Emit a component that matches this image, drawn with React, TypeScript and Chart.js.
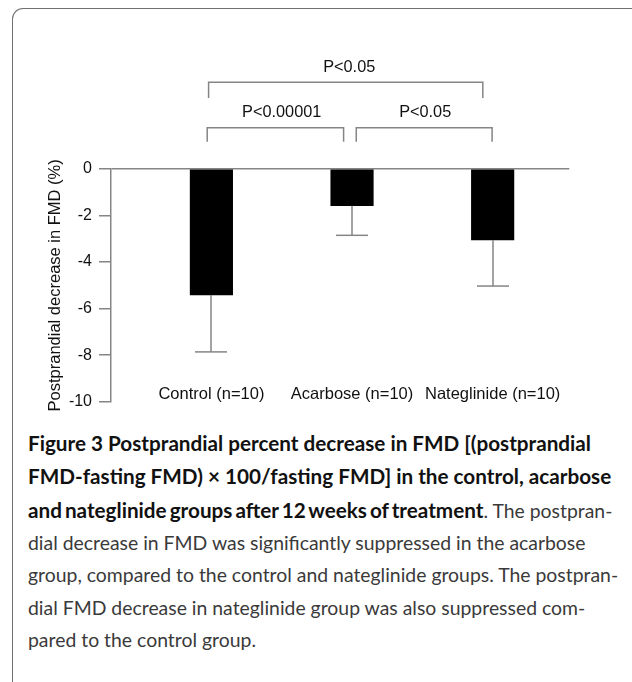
import React, { useEffect, useRef } from "react";
import { Chart, registerables } from "chart.js";

Chart.register(...registerables);

// ---- data ----
const categories = ["Control (n=10)", "Acarbose (n=10)", "Nateglinide (n=10)"];
const categoryPositions = [0, 1, 2];
const meanValues = [-5.41, -1.58, -3.05];
const errorLowValues = [-7.86, -2.85, -5.03];
const yMin = -10;
const yMax = 0;
const yStep = 2;
const yAxisTitle = "Postprandial decrease in FMD (%)";

// significance brackets (x in category units, y in axis units)
const bracketLabels = ["P<0.05", "P<0.00001", "P<0.05"];
const bracketStarts = [-0.02, -0.03, 1.03];
const bracketEnds = [1.93, 0.94, 1.996];
const bracketTops = [3.73, 1.77, 1.77];
const bracketLegBottoms = [3.05, 1.17, 1.17];
const bracketLabelX = [0.98, 0.5, 1.52];
const bracketLabelY = [4.38, 2.41, 2.41];
const categoryLabelY = -9.71;

// caption lines: [bold part, regular part]
const captionLines: [string, string][] = [
  ["Figure 3 Postprandial percent decrease in FMD [(postprandial", ""],
  ["FMD-fasting FMD) \u00d7 100/fasting FMD] in the control, acarbose", ""],
  ["and nateglinide groups after 12 weeks of treatment", ". The postpran-"],
  ["", "dial decrease in FMD was significantly suppressed in the acarbose"],
  ["", "group, compared to the control and nateglinide groups. The postpran-"],
  ["", "dial FMD decrease in nateglinide group was also suppressed com-"],
  ["", "pared to the control group."],
];

const GRAY = "#858585";
const TEXT = "#111111";
const FONT = "'Liberation Sans', Arial, sans-serif";

const annotationPlugin = {
  id: "annotations",
  afterDatasetsDraw(chart: any) {
    const { ctx } = chart;
    const x = chart.scales.x;
    const y = chart.scales.y;
    ctx.save();
    ctx.strokeStyle = GRAY;
    ctx.lineWidth = 1.5;
    meanValues.forEach((v, i) => {
      const px = Math.round(x.getPixelForValue(categoryPositions[i]));
      const yTop = y.getPixelForValue(v);
      const yBot = y.getPixelForValue(errorLowValues[i]);
      ctx.beginPath();
      ctx.moveTo(px, yTop);
      ctx.lineTo(px, yBot);
      ctx.stroke();
      ctx.beginPath();
      ctx.moveTo(px - 16, yBot);
      ctx.lineTo(px + 16, yBot);
      ctx.stroke();
    });
    ctx.restore();
  },
  afterDraw(chart: any) {
    const { ctx } = chart;
    const x = chart.scales.x;
    const y = chart.scales.y;
    ctx.save();
    ctx.strokeStyle = GRAY;
    ctx.lineWidth = 1.5;
    bracketLabels.forEach((label, i) => {
      const x1 = x.getPixelForValue(bracketStarts[i]);
      const x2 = x.getPixelForValue(bracketEnds[i]);
      const yt = y.getPixelForValue(bracketTops[i]);
      const yb = y.getPixelForValue(bracketLegBottoms[i]);
      ctx.beginPath();
      ctx.moveTo(x1, yb);
      ctx.lineTo(x1, yt);
      ctx.lineTo(x2, yt);
      ctx.lineTo(x2, yb);
      ctx.stroke();
      ctx.fillStyle = TEXT;
      ctx.font = `16.3px ${FONT}`;
      ctx.textAlign = "center";
      ctx.textBaseline = "middle";
      ctx.fillText(label, x.getPixelForValue(bracketLabelX[i]), y.getPixelForValue(bracketLabelY[i]));
    });
    ctx.fillStyle = TEXT;
    ctx.font = `16.5px ${FONT}`;
    ctx.textAlign = "center";
    ctx.textBaseline = "middle";
    categories.forEach((c, i) => {
      ctx.fillText(c, x.getPixelForValue(categoryPositions[i]), y.getPixelForValue(categoryLabelY));
    });
    ctx.restore();
  },
};

function FMDChart() {
  const ref = useRef<HTMLCanvasElement | null>(null);
  useEffect(() => {
    if (!ref.current) return;
    const chart = new Chart(ref.current, {
      type: "bar",
      data: {
        datasets: [
          {
            data: meanValues.map((v, i) => ({ x: categoryPositions[i], y: v })),
            backgroundColor: "#000000",
            borderWidth: 0,
            barThickness: 42.5,
          },
        ],
      },
      options: {
        responsive: false,
        animation: false,
        events: [],
        layout: { padding: { left: 0, top: 169, right: 62.7, bottom: 18.3 } },
        plugins: { legend: { display: false }, tooltip: { enabled: false } },
        scales: {
          x: {
            type: "linear",
            display: false,
            offset: false,
            min: -0.714,
            max: 2.545,
          },
          y: {
            type: "linear",
            min: yMin,
            max: yMax,
            afterFit: (scale: any) => {
              scale.width = 111;
            },
            ticks: {
              stepSize: yStep,
              color: TEXT,
              padding: 7,
              font: { family: FONT, size: 16 },
            },
            grid: {
              color: (c: any) => (c.tick && c.tick.value === 0 ? GRAY : "rgba(0,0,0,0)"),
              tickColor: GRAY,
              tickLength: 12,
              lineWidth: 1.5,
            },
            border: { display: true, color: GRAY, width: 1.5 },
            title: {
              display: true,
              text: yAxisTitle,
              color: TEXT,
              font: { family: FONT, size: 16.5 },
              padding: { top: 46, bottom: 0 },
            },
          },
        },
      },
      plugins: [annotationPlugin],
    });
    return () => chart.destroy();
  }, []);
  return <canvas ref={ref} width={632} height={420} style={{ display: "block" }} />;
}

export default function App() {
  return (
    <div style={{ position: "absolute", left: 0, top: 0, width: 632, height: 682, background: "#fff", overflow: "hidden" }}>
      <div
        style={{
          position: "absolute",
          left: 12,
          top: 8,
          right: -20,
          bottom: -20,
          borderLeft: "1.3px solid #707070",
          borderTop: "1.3px solid #707070",
          borderTopLeftRadius: 11,
        }}
      />
      <div style={{ position: "absolute", left: 0, top: 0, width: 632, height: 420 }}>
        <FMDChart />
      </div>
      <div
        style={{
          position: "absolute",
          left: 28,
          top: 426.8,
          fontFamily: "Lato, 'Open Sans', sans-serif",
          fontSize: 19.4,
          lineHeight: "32.4px",
          color: "#3a3a3a",
        }}
      >
        {captionLines.map(([b, r], i) => (
          <div key={i} style={{ whiteSpace: "nowrap" }}>
            {b && (
              <span style={{ fontWeight: 700, color: "#111", fontSize: 20.7, wordSpacing: r ? -2 : 0 }}>{b}</span>
            )}
            {r}
          </div>
        ))}
      </div>
    </div>
  );
}
